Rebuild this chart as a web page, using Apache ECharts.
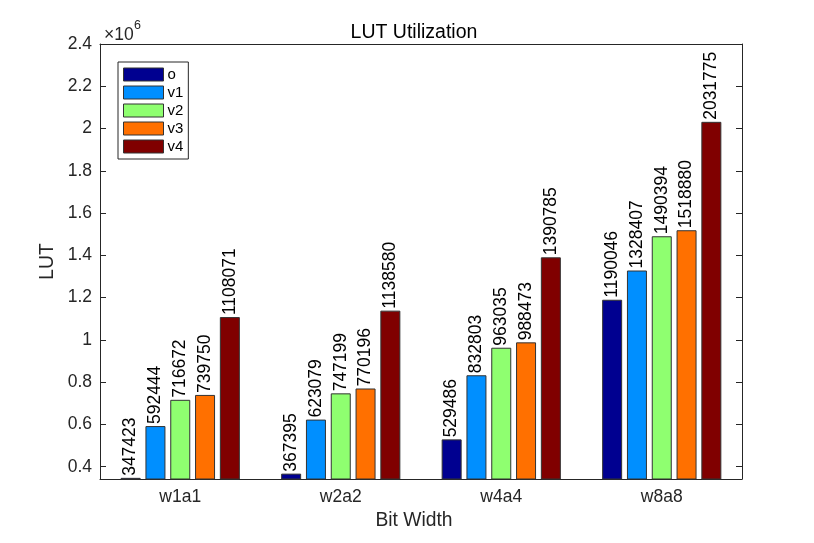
<!DOCTYPE html>
<html><head><meta charset="utf-8">
<script src="https://cdn.jsdelivr.net/npm/echarts@6/dist/echarts.min.js"></script>
<style>html,body{margin:0;padding:0;background:#fff}#c{width:814px;height:543px}</style>
</head><body><div id="c"></div>
<script>
const categories = ['w1a1','w2a2','w4a4','w8a8'];
const seriesNames = ['o','v1','v2','v3','v4'];
const o  = [347423, 367395, 529486, 1190046];
const v1 = [592444, 623079, 832803, 1328407];
const v2 = [716672, 747199, 963035, 1490394];
const v3 = [739750, 770196, 988473, 1518880];
const v4 = [1108071, 1138580, 1390785, 2031775];
const yTicks = [400000,600000,800000,1000000,1200000,1400000,1600000,1800000,2000000,2200000,2400000];
const colors = ['#000090','#008FFF','#8FFF70','#FF7000','#800000'];
const allData = [o, v1, v2, v3, v4];
const FONT = 'Liberation Sans';
const axisColor = '#262626';

const chart = echarts.init(document.getElementById('c'));
const series = allData.map((d, i) => ({
  name: seriesNames[i], type: 'bar', data: d,
  barWidth: 20, barGap: '24%',
  itemStyle: { color: colors[i], borderColor: '#333', borderWidth: 1 },
  label: { show: true, position: 'top', rotate: 90, align: 'left', verticalAlign: 'middle',
           distance: 2, color: '#000', fontFamily: FONT, fontSize: 17.5 },
  silent: true
}));
const fmt = v => { const s = (v/1e6).toFixed(1); return s.endsWith('.0') ? s.slice(0,-2) : s; };
chart.setOption({
  animation: false,
  title: { text: 'LUT Utilization', left: 409, top: 18, textAlign: 'center',
           textStyle: { fontFamily: FONT, fontSize: 19.5, fontWeight: 'normal', color: '#000' } },
  grid: { left: 100, right: 72, top: 44, bottom: 64 },
  legend: {
    orient: 'vertical', left: 118, top: 62, padding: [5, 5, 5, 5], itemGap: 3,
    itemWidth: 40, itemHeight: 13, borderColor: axisColor, borderWidth: 1,
    selectedMode: false, icon: 'rect',
    itemStyle: { borderColor: '#333', borderWidth: 1 },
    textStyle: { fontFamily: FONT, fontSize: 15, color: '#000', padding: [0,0,0,-1] },
    data: seriesNames
  },
  xAxis: [{
    type: 'category', data: categories, position: 'bottom',
    name: 'Bit Width', nameLocation: 'middle', nameGap: 32,
    nameTextStyle: { fontFamily: FONT, fontSize: 19.3, color: axisColor, padding: [0, 14, 0, 0] },
    axisLine: { lineStyle: { color: axisColor, width: 1 } },
    axisTick: { inside: true, alignWithLabel: true, length: 6, lineStyle: { color: axisColor } },
    axisLabel: { fontFamily: FONT, fontSize: 17.5, color: axisColor, margin: 9 }
  }, {
    type: 'category', data: categories, position: 'top',
    axisLine: { lineStyle: { color: axisColor, width: 1 } },
    axisTick: { inside: true, alignWithLabel: true, length: 6, lineStyle: { color: axisColor } },
    axisLabel: { show: false }
  }],
  yAxis: [{
    type: 'value', min: 342000, max: 2400000, position: 'left',
    name: 'LUT', nameLocation: 'middle', nameGap: 41,
    nameTextStyle: { fontFamily: FONT, fontSize: 19.3, color: axisColor },
    axisLine: { show: true, lineStyle: { color: axisColor, width: 1 } },
    axisTick: { show: true, inside: true, length: 6, customValues: yTicks, lineStyle: { color: axisColor } },
    axisLabel: { fontFamily: FONT, fontSize: 17.5, color: axisColor, margin: 8, customValues: yTicks, formatter: fmt },
    splitLine: { show: false }
  }, {
    type: 'value', min: 342000, max: 2400000, position: 'right',
    axisLine: { show: true, lineStyle: { color: axisColor, width: 1 } },
    axisTick: { show: true, inside: true, length: 6, customValues: yTicks, lineStyle: { color: axisColor } },
    axisLabel: { show: false }, splitLine: { show: false }
  }],
  graphic: [
    { type: 'text', left: 104, top: 26,
      style: { text: '×10', fontFamily: FONT, fontSize: 17.5, fill: axisColor } },
    { type: 'text', left: 134, top: 19,
      style: { text: '6', fontFamily: FONT, fontSize: 12.5, fill: axisColor } }
  ],
  series: series
});
</script></body></html>
